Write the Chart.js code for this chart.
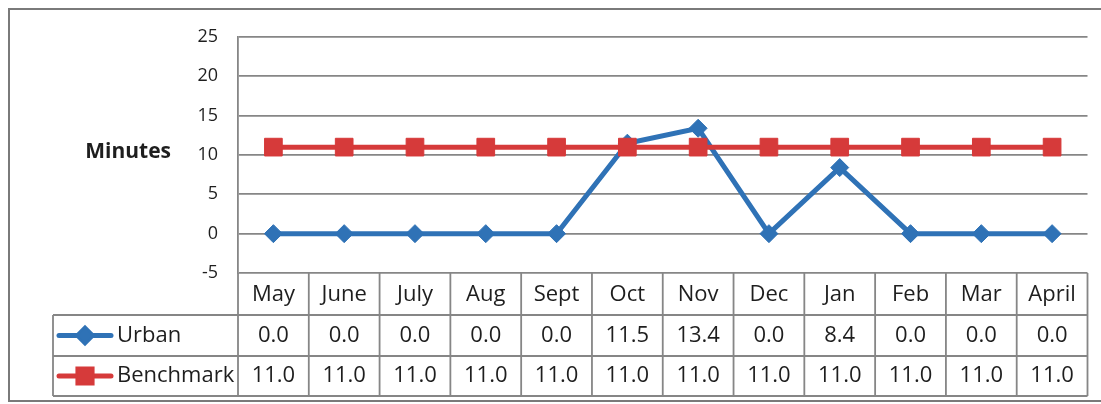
<!DOCTYPE html>
<html>
<head>
<meta charset="utf-8">
<script src="https://cdn.jsdelivr.net/npm/chart.js@4/dist/chart.umd.min.js"></script>
<style>
  html, body { margin: 0; padding: 0; background: #fff; }
  canvas { display: block; }
</style>
</head>
<body>
<canvas id="minutesChart" width="1101" height="404"></canvas>
<script>
// ─── Data ───────────────────────────────────────────────────────────────────
const months = ['May', 'June', 'July', 'Aug', 'Sept', 'Oct', 'Nov', 'Dec', 'Jan', 'Feb', 'Mar', 'April'];
const urbanValues = [0.0, 0.0, 0.0, 0.0, 0.0, 11.5, 13.4, 0.0, 8.4, 0.0, 0.0, 0.0];
const benchmarkValues = [11.0, 11.0, 11.0, 11.0, 11.0, 11.0, 11.0, 11.0, 11.0, 11.0, 11.0, 11.0];
const yAxisTitle = 'Minutes';

const BLUE = '#2f72b6';
const RED = '#d63a3a';
const LINE_GREY = '#868686';
const TEXT = '#1e1e1e';
const FONT = '"Open Sans", "Noto Sans", sans-serif';

// ─── Frame + axis title + data table ─────────────────────────────────────────
const dataTablePlugin = {
  id: 'dataTable',
  beforeDraw(chart) {
    const ctx = chart.ctx;
    ctx.save();
    ctx.strokeStyle = '#7a7a7a';
    ctx.lineWidth = 2;
    ctx.strokeRect(9, 9, 1110, 392);
    ctx.restore();
  },
  afterDraw(chart) {
    const ctx = chart.ctx;
    const x = chart.scales.x;
    const area = chart.chartArea;
    const colW = x.width / months.length;
    const legendLeft = 53;

    const rowTop = area.bottom;
    const rowLines = [rowTop, rowTop + 42, rowTop + 83, rowTop + 123];

    ctx.save();

    // axis title, horizontal like Excel
    ctx.font = 'bold 21px ' + FONT;
    ctx.fillStyle = TEXT;
    ctx.textAlign = 'right';
    ctx.textBaseline = 'middle';
    ctx.fillText(yAxisTitle, 171, chart.scales.y.getPixelForValue(10) - 3);

    // grid of table
    ctx.strokeStyle = LINE_GREY;
    ctx.lineWidth = 1.8;
    ctx.beginPath();
    ctx.moveTo(legendLeft, rowLines[1]); ctx.lineTo(area.right, rowLines[1]);
    ctx.moveTo(legendLeft, rowLines[2]); ctx.lineTo(area.right, rowLines[2]);
    ctx.moveTo(legendLeft, rowLines[3]); ctx.lineTo(area.right, rowLines[3]);
    ctx.moveTo(legendLeft, rowLines[1]); ctx.lineTo(legendLeft, rowLines[3]);
    for (let i = 0; i <= months.length; i++) {
      const px = area.left + i * colW;
      ctx.moveTo(px, rowLines[0]); ctx.lineTo(px, rowLines[3]);
    }
    ctx.stroke();

    // cell texts
    ctx.font = '22px ' + FONT;
    ctx.fillStyle = TEXT;
    ctx.textAlign = 'center';
    ctx.textBaseline = 'middle';
    months.forEach((m, i) => {
      const cx = x.getPixelForValue(i);
      ctx.fillText(m, cx, (rowLines[0] + rowLines[1]) / 2 + 1);
      ctx.fillText(urbanValues[i].toFixed(1), cx, (rowLines[1] + rowLines[2]) / 2);
      ctx.fillText(benchmarkValues[i].toFixed(1), cx, (rowLines[2] + rowLines[3]) / 2);
    });

    // legend keys
    chart.data.datasets.forEach((ds, k) => {
      const cy = (rowLines[k + 1] + rowLines[k + 2]) / 2;
      ctx.strokeStyle = ds.borderColor;
      ctx.lineWidth = ds.borderWidth;
      ctx.lineCap = 'round';
      ctx.beginPath();
      ctx.moveTo(59, cy);
      ctx.lineTo(111, cy);
      ctx.stroke();
      Chart.helpers.drawPoint(ctx, {
        pointStyle: ds.pointStyle,
        radius: ds.pointRadius * 0.8,
        borderWidth: 1
      }, 85, cy);
      ctx.fillStyle = ds.pointBackgroundColor;
      ctx.fill();
      ctx.fillStyle = TEXT;
      ctx.textAlign = 'left';
      ctx.fillText(ds.label, 117, cy);
    });

    ctx.restore();
  }
};

new Chart(document.getElementById('minutesChart'), {
  type: 'line',
  data: {
    labels: months,
    datasets: [
      {
        label: 'Urban',
        data: urbanValues,
        borderColor: BLUE,
        borderWidth: 5,
        pointStyle: 'rectRot',
        pointRadius: 9,
        pointBackgroundColor: BLUE,
        pointBorderColor: BLUE,
        pointBorderWidth: 1,
        tension: 0,
        order: 1
      },
      {
        label: 'Benchmark',
        data: benchmarkValues,
        borderColor: RED,
        borderWidth: 5,
        pointStyle: 'rect',
        pointRadius: 12.5,
        pointBackgroundColor: RED,
        pointBorderColor: RED,
        pointBorderWidth: 1,
        tension: 0,
        order: 0
      }
    ]
  },
  options: {
    responsive: false,
    animation: false,
    devicePixelRatio: 1,
    layout: { padding: { left: 0, top: 37, right: 11, bottom: 131 } },
    plugins: {
      legend: { display: false },
      tooltip: { enabled: false }
    },
    scales: {
      x: {
        display: false,
        offset: true
      },
      y: {
        min: -5,
        max: 25,
        afterFit(scale) { scale.width = 238; },
        ticks: {
          stepSize: 5,
          padding: 20,
          color: TEXT,
          font: { family: FONT, size: 18 }
        },
        grid: { color: LINE_GREY, lineWidth: 1.8, drawTicks: false },
        border: { display: true, color: LINE_GREY, width: 1.8 }
      }
    }
  },
  plugins: [dataTablePlugin]
});
</script>
</body>
</html>
